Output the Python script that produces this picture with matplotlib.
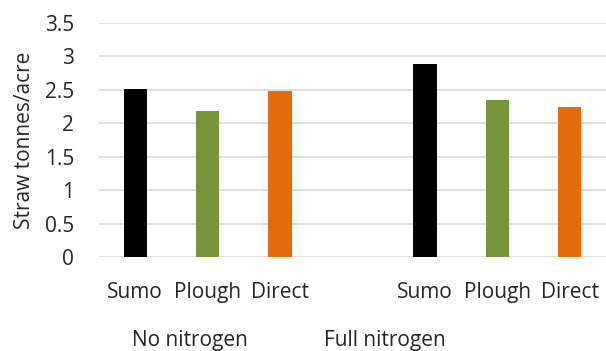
import numpy as np
import matplotlib
matplotlib.use("Agg")
import matplotlib.pyplot as plt

plt.rcParams['font.family'] = ['Open Sans', 'DejaVu Sans']

groups = ['No nitrogen', 'Full nitrogen']
methods = ['Sumo', 'Plough', 'Direct']
colours = ['#000000', '#77933c', '#e46c0a']
no_nitrogen = [2.52, 2.18, 2.48]
full_nitrogen = [2.88, 2.35, 2.24]

txt = '#262626'
fs = 15

fig = plt.figure(figsize=(6.06, 3.51), dpi=100)
ax = fig.add_axes([0.1634, 0.2678, 0.8366, 0.6667])

# two groups of three bars, one empty slot between them
pos = [0, 1, 2, 4, 5, 6]
vals = no_nitrogen + full_nitrogen
ax.bar(pos, vals, width=0.32, color=colours * 2, zorder=3)

ax.set_xlim(-0.5, 6.5)
ax.set_ylim(0, 3.5)
ax.set_yticks(np.arange(0, 3.51, 0.5))
ax.set_yticklabels(['0', '0.5', '1', '1.5', '2', '2.5', '3', '3.5'])
ax.set_xticks(pos)
ax.set_xticklabels(methods * 2)
ax.tick_params(axis='y', length=0, pad=18, labelsize=fs, labelcolor=txt)
ax.tick_params(axis='x', length=0, pad=18, labelsize=fs, labelcolor=txt)
ax.grid(axis='y', color='#d9d9d9', lw=1.2, zorder=0)
for s in ax.spines.values():
    s.set_visible(False)

ax.set_ylabel('Straw tonnes/acre', fontsize=fs, color=txt, labelpad=7)

# group captions under the method labels
ax.text(0.75, -1.25, groups[0], ha='center', va='center', fontsize=fs, color=txt)
ax.text(3.44, -1.25, groups[1], ha='center', va='center', fontsize=fs, color=txt)

fig.savefig('out.png', dpi=100)
